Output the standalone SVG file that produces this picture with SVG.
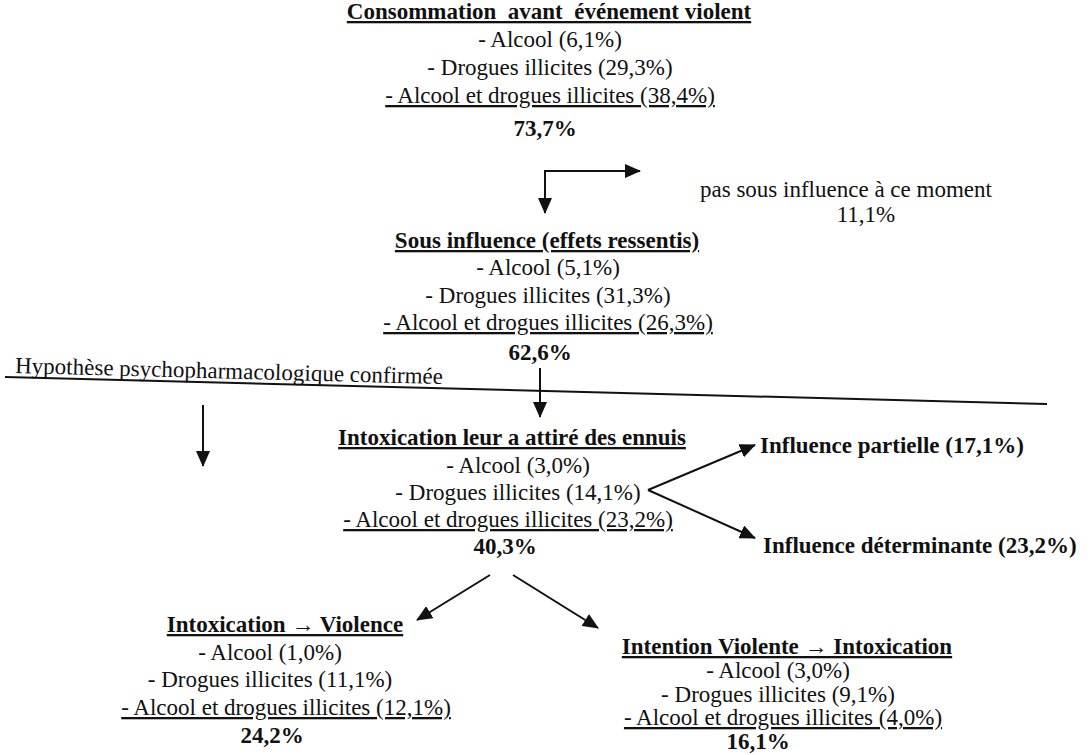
<svg xmlns="http://www.w3.org/2000/svg" width="1091" height="755" viewBox="0 0 1091 755">
  <style>
    text { font-family: "Liberation Serif", "Times New Roman", serif; font-size: 23px; fill: #111; }
    .b { font-weight: bold; }
    .u { text-decoration: underline; }
    .c { text-anchor: middle; }
    .ln { stroke: #111; stroke-width: 2; fill: none; }
    .ar { marker-end: url(#ah); }
  </style>
  <defs>
    <marker id="ah" viewBox="0 0 16 14" refX="15" refY="7" markerWidth="16" markerHeight="14" markerUnits="userSpaceOnUse" orient="auto">
      <path d="M0,0 L16,7 L0,14 z" fill="#111"/>
    </marker>
  </defs>

  <g id="connectors">
    <line class="ln ar" x1="545" y1="171" x2="545" y2="213"/>
    <line class="ln ar" x1="544" y1="171" x2="640" y2="171"/>
    <line class="ln ar" x1="540" y1="368" x2="540" y2="417"/>
    <line class="ln ar" x1="203" y1="405" x2="203" y2="466"/>
    <line class="ln ar" x1="648" y1="490" x2="755" y2="445"/>
    <line class="ln ar" x1="648" y1="490" x2="755" y2="538"/>
    <line class="ln ar" x1="490" y1="575" x2="417" y2="620"/>
    <line class="ln ar" x1="513" y1="575" x2="598" y2="628"/>
    <line class="ln" x1="5" y1="377" x2="1047" y2="404"/>
  </g>

  <g id="node-consommation">
    <text class="b u c" x="549" y="19" xml:space="preserve">Consommation  avant  événement violent</text>
    <text class="c" x="550" y="47">- Alcool (6,1%)</text>
    <text class="c" x="550" y="75">- Drogues illicites (29,3%)</text>
    <text class="u c" x="550" y="103">- Alcool et drogues illicites (38,4%)</text>
    <text class="b c" x="545" y="136">73,7%</text>
  </g>

  <g id="node-pas-sous-influence">
    <text x="700" y="197">pas sous influence à ce moment</text>
    <text class="c" x="866" y="222">11,1%</text>
  </g>

  <g id="node-sous-influence">
    <text class="b u c" x="547" y="248">Sous influence (effets ressentis)</text>
    <text class="c" x="548" y="275">- Alcool (5,1%)</text>
    <text class="c" x="548" y="303">- Drogues illicites (31,3%)</text>
    <text class="u c" x="548" y="330">- Alcool et drogues illicites (26,3%)</text>
    <text class="b c" x="540" y="360">62,6%</text>
  </g>

  <g id="node-hypothese">
    <text x="15" y="373" transform="rotate(1.48 15 373)">Hypothèse psychopharmacologique confirmée</text>
  </g>

  <g id="node-intoxication">
    <text class="b u c" x="512" y="445">Intoxication leur a attiré des ennuis</text>
    <text class="c" x="518" y="473">- Alcool (3,0%)</text>
    <text class="c" x="518" y="500">- Drogues illicites (14,1%)</text>
    <text class="u c" x="508" y="527">- Alcool et drogues illicites (23,2%)</text>
    <text class="b c" x="505" y="554">40,3%</text>
  </g>

  <g id="node-influence-partielle">
    <text class="b" x="760" y="453">Influence partielle (17,1%)</text>
  </g>

  <g id="node-influence-determinante">
    <text class="b" x="763" y="553">Influence déterminante (23,2%)</text>
  </g>

  <g id="node-intox-violence">
    <text class="b u c" x="285" y="632">Intoxication → Violence</text>
    <text class="c" x="270" y="660">- Alcool (1,0%)</text>
    <text class="c" x="270" y="687">- Drogues illicites (11,1%)</text>
    <text class="u c" x="286" y="715">- Alcool et drogues illicites (12,1%)</text>
    <text class="b c" x="272" y="743">24,2%</text>
  </g>

  <g id="node-intention-intox">
    <text class="b u c" x="787" y="654">Intention Violente → Intoxication</text>
    <text class="c" x="778" y="678">- Alcool (3,0%)</text>
    <text class="c" x="778" y="702">- Drogues illicites (9,1%)</text>
    <text class="u c" x="783" y="725">- Alcool et drogues illicites (4,0%)</text>
    <text class="b c" x="758" y="749">16,1%</text>
  </g>
</svg>
